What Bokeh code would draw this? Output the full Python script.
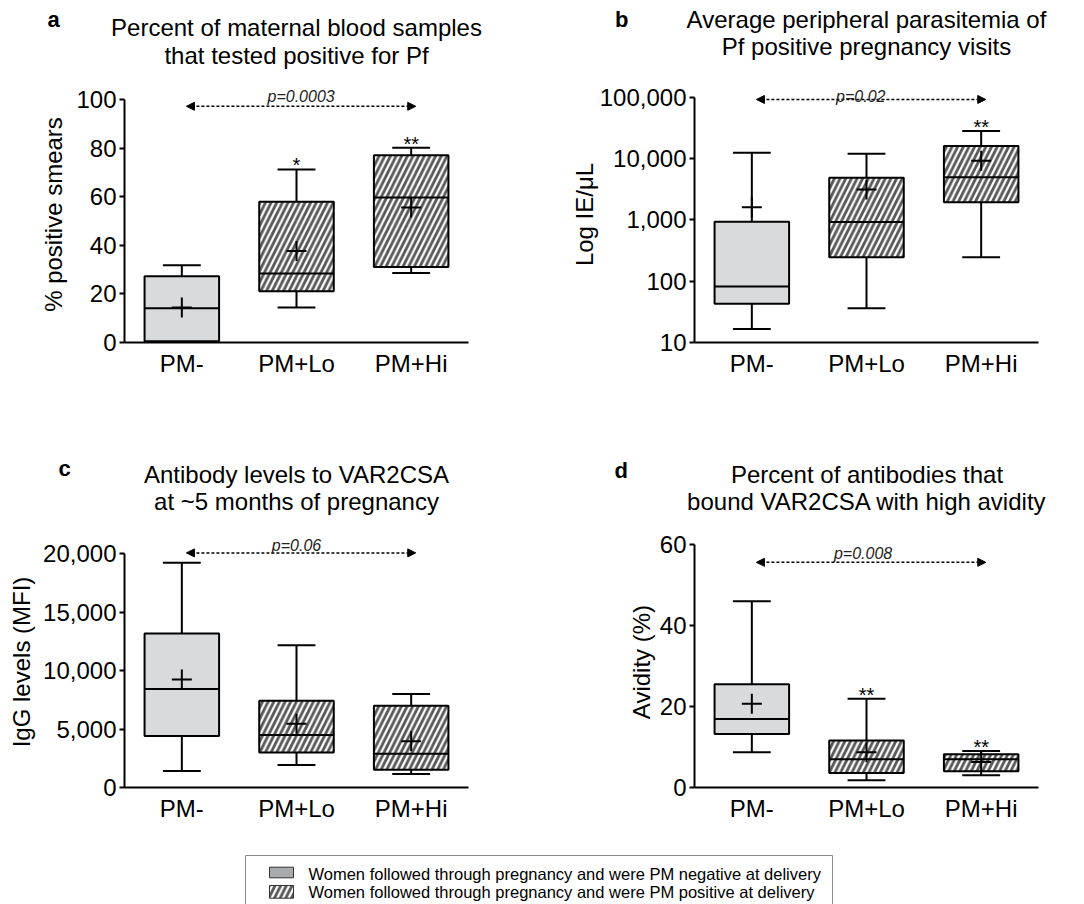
import numpy as np
from bokeh.plotting import figure
from bokeh.models import (Range1d, FixedTicker, NumeralTickFormatter, Label,
                          Arrow, NormalHead, ColumnDataSource)
from bokeh.layouts import column, row
from bokeh.embed import file_html
from bokeh.resources import INLINE
from bokeh.core.properties import value

# ---------------- data ----------------
categories = ["PM-", "PM+Lo", "PM+Hi"]
pm_positive = [False, True, True]

a_title = ["Percent of maternal blood samples", "that tested positive for Pf"]
a_ylabel = "% positive smears"
a_yticks = [0, 20, 40, 60, 80, 100]
a_whisker_low = [0.0, 14.4, 28.6]
a_q1 = [0.5, 21.1, 31.1]
a_median = [14.1, 28.4, 59.7]
a_q3 = [27.3, 57.9, 77.1]
a_whisker_high = [31.8, 71.2, 80.1]
a_mean = [14.4, 37.7, 55.6]
a_stars = ["", "*", "**"]
a_pvalue = "p=0.0003"

b_title = ["Average peripheral parasitemia of", "Pf positive pregnancy visits"]
b_ylabel = "Log IE/\u03bcL"
b_yticks = [10, 100, 1000, 10000, 100000]
b_whisker_low = [16.6, 36, 246]
b_q1 = [42.7, 246, 1940]
b_median = [82, 917, 4930]
b_q3 = [930, 4860, 15900]
b_whisker_high = [12340, 11900, 28100]
b_mean = [1600, 3110, 9140]
b_stars = ["", "", "**"]
b_pvalue = "p=0.02"

c_title = ["Antibody levels to VAR2CSA", "at ~5 months of pregnancy"]
c_ylabel = "IgG levels (MFI)"
c_yticks = [0, 5000, 10000, 15000, 20000]
c_whisker_low = [1420, 1920, 1150]
c_q1 = [4410, 2990, 1510]
c_median = [8420, 4500, 2880]
c_q3 = [13170, 7430, 7000]
c_whisker_high = [19230, 12180, 8010]
c_mean = [9240, 5460, 3950]
c_stars = ["", "", ""]
c_pvalue = "p=0.06"

d_title = ["Percent of antibodies that", "bound VAR2CSA with high avidity"]
d_ylabel = "Avidity (%)"
d_yticks = [0, 20, 40, 60]
d_whisker_low = [8.7, 1.8, 3.0]
d_q1 = [13.2, 3.6, 4.0]
d_median = [16.9, 7.0, 7.0]
d_q3 = [25.5, 11.6, 8.2]
d_whisker_high = [46.0, 21.9, 9.0]
d_mean = [20.7, 8.7, 6.3]
d_stars = ["", "**", "**"]
d_pvalue = "p=0.008"

comparison = [0, 2]   # groups compared by the dashed arrow
panel_letters = ["a", "b", "c", "d"]

legend_labels = [
    "Women followed through pregnancy and were PM negative at delivery",
    "Women followed through pregnancy and were PM positive at delivery",
]

# ---------------- style ----------------
FONT = "Liberation Sans"
NEG_FILL = "#d9dadc"
NEG_SWATCH = "#a9aaac"
HATCH_COLOR = "#585858"
HATCH = dict(hatch_color=HATCH_COLOR, hatch_scale=11.3, hatch_weight=2.8)
BOX_W = 0.65
CAP_W = 0.33
PAGE_W = 1084


def strip(height):
    s = figure(width=PAGE_W, height=height, x_range=Range1d(0, PAGE_W),
               y_range=Range1d(0, height), min_border=0,
               x_axis_location=None, y_axis_location=None,
               output_backend="svg", toolbar_location=None)
    s.grid.visible = False
    s.outline_line_color = None
    return s


def header(height, titles, letters, title_x, title_y, letter_xy):
    s = strip(height)
    tx, ty, tt = [], [], []
    for lines, cx, ys in zip(titles, title_x, title_y):
        for line, y in zip(lines, ys):
            tx.append(cx); ty.append(y); tt.append(line)
    s.text(x=tx, y=ty, text=tt, text_font=value(FONT), text_font_size="24px",
           text_align="center", text_baseline="alphabetic", text_color="black")
    s.text(x=[p[0] for p in letter_xy], y=[p[1] for p in letter_xy], text=letters,
           text_font=value(FONT), text_font_size="22px", text_font_style="bold",
           text_align="left", text_baseline="alphabetic", text_color="black")
    return s


def panel(ylabel, yticks, stats, stars, pvalue, *, width, height,
          left, right, top, bottom, y_end, log=False, fmt=False, label_standoff=6,
          arrow_y=None, p_y=None, p_x=1.0, arrow_dx=(0.04, 0.04)):
    low, q1, med, q3, high, mean = stats
    x = np.arange(len(categories), dtype=float)
    p = figure(width=width, height=height, min_border_left=left, min_border_right=right,
               min_border_top=top, min_border_bottom=bottom,
               x_range=Range1d(-0.5, len(categories) - 0.5),
               y_range=Range1d(yticks[0], y_end),
               y_axis_type="log" if log else "linear",
               output_backend="svg", toolbar_location=None)
    p.grid.visible = False
    p.outline_line_color = None
    p.background_fill_color = "white"

    src = ColumnDataSource(dict(
        x=x, low=low, q1=q1, med=med, q3=q3, high=high, mean=mean,
        x0=x - BOX_W / 2, x1=x + BOX_W / 2, c0=x - CAP_W / 2, c1=x + CAP_W / 2,
        box_fill=["white" if pos else NEG_FILL for pos in pm_positive],
        box_hatch=["/" if pos else " " for pos in pm_positive],
        stars=stars))

    p.vbar(x="x", bottom="q1", top="q3", width=BOX_W, source=src,
           fill_color="box_fill", hatch_pattern="box_hatch", **HATCH,
           line_color="black", line_width=2)
    seg = dict(source=src, line_color="black", line_width=2)
    p.segment(x0="x0", x1="x1", y0="med", y1="med", **seg)
    p.segment(x0="x", x1="x", y0="q3", y1="high", **seg)
    p.segment(x0="x", x1="x", y0="q1", y1="low", **seg)
    p.segment(x0="c0", x1="c1", y0="high", y1="high", **seg)
    p.segment(x0="c0", x1="c1", y0="low", y1="low", **seg)
    p.scatter(x="x", y="mean", marker="cross", size=20, line_width=2,
              line_color="black", source=src)
    p.text(x="x", y="high", text="stars", source=src, text_font=value(FONT),
           text_font_size="20px", text_align="center", text_baseline="alphabetic",
           text_color="black", y_offset=-4)

    # axes
    xa = p.xaxis[0]
    ya = p.yaxis[0]
    for ax in (xa, ya):
        ax.axis_line_width = 2
        ax.axis_line_color = "black"
        ax.major_tick_line_width = 2
        ax.major_tick_line_color = "black"
        ax.minor_tick_line_color = None
        ax.major_tick_in = 0
        ax.major_label_text_font = FONT
        ax.major_label_text_font_size = "24px"
        ax.major_label_text_color = "black"
        ax.axis_label_text_font = FONT
        ax.axis_label_text_font_size = "24px"
        ax.axis_label_text_font_style = "normal"
        ax.axis_label_text_color = "black"
    xa.ticker = FixedTicker(ticks=list(x))
    xa.major_label_overrides = {int(i): c for i, c in enumerate(categories)}
    xa.major_tick_line_color = None
    xa.major_tick_out = 0
    xa.major_label_standoff = 7
    ya.ticker = FixedTicker(ticks=yticks)
    ya.bounds = (yticks[0], yticks[-1])
    ya.major_tick_out = 5
    ya.major_label_standoff = 3
    if fmt:
        ya.formatter = NumeralTickFormatter(format="0,0")
    ya.axis_label = ylabel
    ya.axis_label_standoff = label_standoff

    # comparison arrow and p-value
    i0, i1 = comparison
    head = dict(size=8, fill_color="black", line_color="black", line_width=1)
    p.add_layout(Arrow(start=NormalHead(**head), end=NormalHead(**head),
                       x_start=x[i0] + arrow_dx[0], y_start=arrow_y,
                       x_end=x[i1] + arrow_dx[1], y_end=arrow_y,
                       line_width=1.5, line_dash="3 2", line_color="black"))
    p.add_layout(Label(x=p_x, y=p_y, text=pvalue, text_font=FONT, text_font_size="16px",
                       text_font_style="italic", text_align="center",
                       text_baseline="alphabetic", text_color="#222222"))
    return p


h1 = header(70, [a_title, b_title], panel_letters[:2],
            title_x=[296, 866], title_y=[(43, 14.7), (51, 23.7)],
            letter_xy=[(47, 51), (614.5, 51)])

pa = panel(a_ylabel, a_yticks,
           (a_whisker_low, a_q1, a_median, a_q3, a_whisker_high, a_mean), a_stars, a_pvalue,
           width=540, height=350, left=124, right=72, top=16, bottom=78,
           y_end=256 / 2.43, label_standoff=6,
           arrow_y=97.2, p_y=101.4, p_x=1.04)

pb = panel(b_ylabel, b_yticks,
           (b_whisker_low, b_q1, b_median, b_q3, b_whisker_high, b_mean), b_stars, b_pvalue,
           width=544, height=350, left=154, right=46, top=7, bottom=78,
           y_end=10 ** (1 + 265 / 63.5), log=True, fmt=True, label_standoff=-1,
           arrow_y=91600, p_y=104000, p_x=0.95)

h2 = header(98, [c_title, d_title], panel_letters[2:],
            title_x=[296, 866.5], title_y=[(44.3, 16.7), (44.3, 16.7)],
            letter_xy=[(58, 50), (614, 48)])

pc = panel(c_ylabel, c_yticks,
           (c_whisker_low, c_q1, c_median, c_q3, c_whisker_high, c_mean), c_stars, c_pvalue,
           width=540, height=322, left=124, right=72, top=8, bottom=53,
           y_end=261 / 243 * 20000, fmt=True, label_standoff=5,
           arrow_y=20080, p_y=20700, p_x=1.0)

pd_ = panel(d_ylabel, d_yticks,
            (d_whisker_low, d_q1, d_median, d_q3, d_whisker_high, d_mean), d_stars, d_pvalue,
            width=544, height=322, left=154, right=46, top=18, bottom=53,
            y_end=251 / 4.05, label_standoff=2,
            arrow_y=55.6, p_y=57.7, p_x=0.97)

# ---------------- legend strip ----------------
pl = strip(64)
pl.quad(left=245, right=832, top=49, bottom=-20, fill_color=None,
        line_color="#8a8a8a", line_width=1)
leg_src = ColumnDataSource(dict(
    left=[269, 269], right=[293, 293], top=[37.3, 19.0], bottom=[26.7, 6.3],
    fill=[("white" if pos else NEG_SWATCH) for pos in (False, True)],
    hatch=[("/" if pos else " ") for pos in (False, True)],
    tx=[308, 308], ty=[30.5, 12.2], label=legend_labels))
pl.quad(left="left", right="right", top="top", bottom="bottom", source=leg_src,
        fill_color="fill", hatch_pattern="hatch", **HATCH,
        line_color="#333333", line_width=1)
pl.text(x="tx", y="ty", text="label", source=leg_src, text_font=value(FONT),
        text_font_size="16.5px", text_baseline="alphabetic", text_align="left",
        text_color="black")

layout = column(h1, row(pa, pb), h2, row(pc, pd_), pl)
open("out.html", "w").write(file_html(layout, INLINE))
